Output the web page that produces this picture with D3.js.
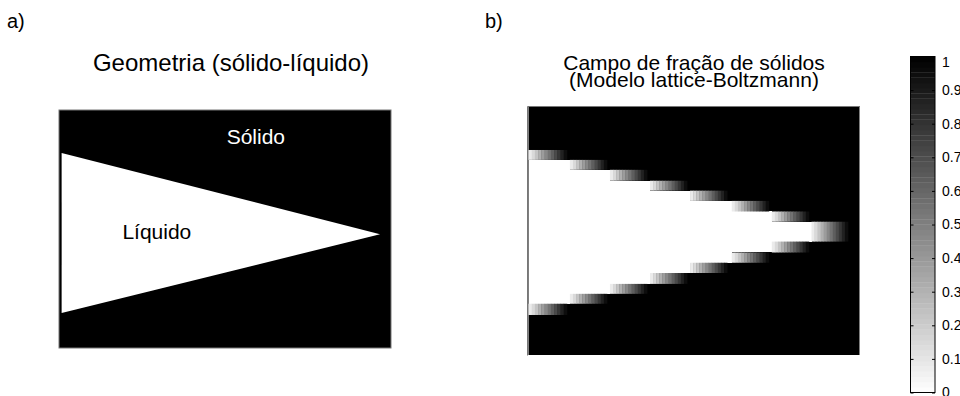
<!DOCTYPE html>
<html>
<head>
<meta charset="utf-8">
<script src="https://cdn.jsdelivr.net/npm/d3@7/dist/d3.min.js"></script>
<style>
  body { margin: 0; background: #fff; }
  text { font-family: "Liberation Sans", Arial, Helvetica, sans-serif; fill: #000; }
</style>
</head>
<body>
<svg id="fig" width="960" height="396"></svg>
<script>
// ---- lattice extents (lattice units) ----
const latticeX = [0, 100];
const geomY = [0, 72];
const fieldY = [0, 75];

// ---- panel a: liquid wedge vertices [x, y] in lattice units ----
const wedgeX = [0.8, 96.7, 0.8];
const wedgeY = [13.0, 37.6, 61.4];
const phaseLabels = ["Sólido", "Líquido"];
const phaseLabelX = [50.5, 19.1];
const phaseLabelY = [10.3, 39.0];

// ---- panel b: lattice-Boltzmann solid fraction, staircase interface ----
// each row band: top, bottom, start and end of the diffuse interface (lattice units)
const rowTop    = [13.0, 16.0, 19.0, 22.3, 25.3, 28.4, 31.6, 34.7, 40.7, 44.0, 47.1, 50.2, 53.5, 56.5, 59.5];
const rowBottom = [16.0, 19.0, 22.3, 25.3, 28.4, 31.6, 34.7, 40.7, 44.0, 47.1, 50.2, 53.5, 56.5, 59.5, 62.9];
const ifStart   = [0.0, 12.5, 24.6, 36.7, 48.8, 61.4, 73.5, 85.5, 73.5, 61.4, 48.8, 36.7, 24.6, 12.5, 0.0];
const ifEnd     = [11.6, 23.7, 35.8, 47.9, 60.0, 72.6, 84.7, 96.5, 84.7, 72.6, 60.0, 47.9, 35.8, 23.7, 11.6];
// solid fraction across the interface cells, liquid side to solid side
const ifProfile = [0.08, 0.15, 0.23, 0.31, 0.39, 0.47, 0.55, 0.63, 0.71, 0.79, 0.87, 0.95];

// ---- colorbar ----
const cbTicks  = [0, 0.1, 0.2, 0.3, 0.4, 0.5, 0.6, 0.7, 0.8, 0.9, 1];
const cbLabels = ["0", "0.1", "0.2", "0.3", "0.4", "0.5", "0.6", "0.7", "0.8", "0.9", "1"];
const cbLevels = 64;

const svg = d3.select("#fig");
const gray = d3.scaleLinear().domain([0, 1]).range(["#ffffff", "#000000"]).clamp(true);

// panel labels
svg.append("text").attr("x", 7).attr("y", 28).attr("font-size", 20).text("a)");
svg.append("text").attr("x", 485).attr("y", 28).attr("font-size", 20).text("b)");

// ================= panel a =================
const ax = d3.scaleLinear().domain(latticeX).range([59, 391]);
const ay = d3.scaleLinear().domain(geomY).range([110, 348]);
const gA = svg.append("g");
gA.append("rect")
  .attr("x", ax(latticeX[0])).attr("y", ay(geomY[0]))
  .attr("width", ax(latticeX[1]) - ax(latticeX[0]))
  .attr("height", ay(geomY[1]) - ay(geomY[0]))
  .attr("fill", gray(1));
gA.append("path")
  .attr("d", d3.line().x(i => ax(wedgeX[i])).y(i => ay(wedgeY[i]))(d3.range(wedgeX.length)) + "Z")
  .attr("fill", gray(0));
gA.append("rect")
  .attr("x", ax(latticeX[0])).attr("y", ay(geomY[0]))
  .attr("width", ax(latticeX[1]) - ax(latticeX[0]))
  .attr("height", ay(geomY[1]) - ay(geomY[0]))
  .attr("fill", "none").attr("stroke", "#777").attr("stroke-width", 1);
gA.selectAll("text.phase").data(phaseLabels).join("text")
  .attr("class", "phase")
  .attr("x", (d, i) => ax(phaseLabelX[i]))
  .attr("y", (d, i) => ay(phaseLabelY[i]))
  .attr("font-size", 21)
  .style("fill", (d, i) => i === 0 ? "#fff" : "#000")
  .text(d => d);
svg.append("text").attr("x", 231).attr("y", 71).attr("font-size", 24)
  .attr("text-anchor", "middle").text("Geometria (sólido-líquido)");

// ================= panel b =================
const bx = d3.scaleLinear().domain(latticeX).range([528.5, 859.5]);
const by = d3.scaleLinear().domain(fieldY).range([107, 355]);
const gB = svg.append("g");
gB.append("rect")
  .attr("x", bx(latticeX[0])).attr("y", by(fieldY[0]))
  .attr("width", bx(latticeX[1]) - bx(latticeX[0]))
  .attr("height", by(fieldY[1]) - by(fieldY[0]))
  .attr("fill", gray(1));
const rows = d3.range(rowTop.length);
// liquid cells left of the interface
gB.selectAll("rect.liq").data(rows).join("rect")
  .attr("class", "liq")
  .attr("x", bx(latticeX[0]))
  .attr("y", i => by(rowTop[i]))
  .attr("width", i => bx(ifStart[i]) - bx(latticeX[0]))
  .attr("height", i => by(rowBottom[i]) - by(rowTop[i]))
  .attr("fill", gray(0))
  .attr("shape-rendering", "crispEdges");
// diffuse interface cells
const cells = [];
rows.forEach(i => {
  const w = (ifEnd[i] - ifStart[i]) / ifProfile.length;
  ifProfile.forEach((v, k) => cells.push({ x0: ifStart[i] + k * w, x1: ifStart[i] + (k + 1) * w, y0: rowTop[i], y1: rowBottom[i], v }));
});
gB.selectAll("rect.cell").data(cells).join("rect")
  .attr("class", "cell")
  .attr("x", d => bx(d.x0))
  .attr("y", d => by(d.y0))
  .attr("width", d => bx(d.x1) - bx(d.x0) + 0.4)
  .attr("height", d => by(d.y1) - by(d.y0))
  .attr("fill", d => gray(d.v));
// axes box
gB.append("line").attr("x1", 527.5).attr("x2", 527.5).attr("y1", 106.5).attr("y2", 355.5)
  .attr("stroke", "#777");
gB.append("line").attr("x1", 527.5).attr("x2", 860).attr("y1", 106.5).attr("y2", 106.5)
  .attr("stroke", "#777");
const titleB = svg.append("text").attr("font-size", 21).attr("text-anchor", "middle");
titleB.append("tspan").attr("x", 694).attr("y", 70).text("Campo de fração de sólidos");
titleB.append("tspan").attr("x", 694).attr("y", 87).text("(Modelo lattice-Boltzmann)");

// ================= colorbar =================
const cy = d3.scaleLinear().domain([0, 1]).range([392.5, 56.5]);
const cbX0 = 910.5, cbX1 = 935;
const gC = svg.append("g");
gC.selectAll("rect.lvl").data(d3.range(cbLevels)).join("rect")
  .attr("class", "lvl")
  .attr("x", cbX0)
  .attr("y", k => cy((k + 1) / cbLevels))
  .attr("width", cbX1 - cbX0)
  .attr("height", k => cy(k / cbLevels) - cy((k + 1) / cbLevels) + 0.3)
  .attr("fill", k => gray((k + 0.5) / cbLevels));
gC.append("rect").attr("x", cbX0).attr("y", cy(1)).attr("width", cbX1 - cbX0)
  .attr("height", cy(0) - cy(1)).attr("fill", "none").attr("stroke", "#000");
const axisR = d3.axisRight(cy).tickValues(cbTicks).tickFormat((d, i) => cbLabels[i])
  .tickSizeInner(-3).tickSizeOuter(0).tickPadding(7);
const gAx = gC.append("g").attr("transform", `translate(${cbX1},0)`).call(axisR);
gAx.select(".domain").remove();
gAx.selectAll("text").attr("font-size", 14).attr("font-family", "Liberation Sans, Arial, sans-serif");
// the top label sits just below the bar's end
gAx.selectAll(".tick").filter(d => d === 1).select("text").attr("dy", "0.72em");
const axisL = d3.axisLeft(cy).tickValues(cbTicks).tickFormat("").tickSizeInner(-3).tickSizeOuter(0);
const gAxL = gC.append("g").attr("transform", `translate(${cbX0},0)`).call(axisL);
gAxL.select(".domain").remove();
</script>
</body>
</html>
